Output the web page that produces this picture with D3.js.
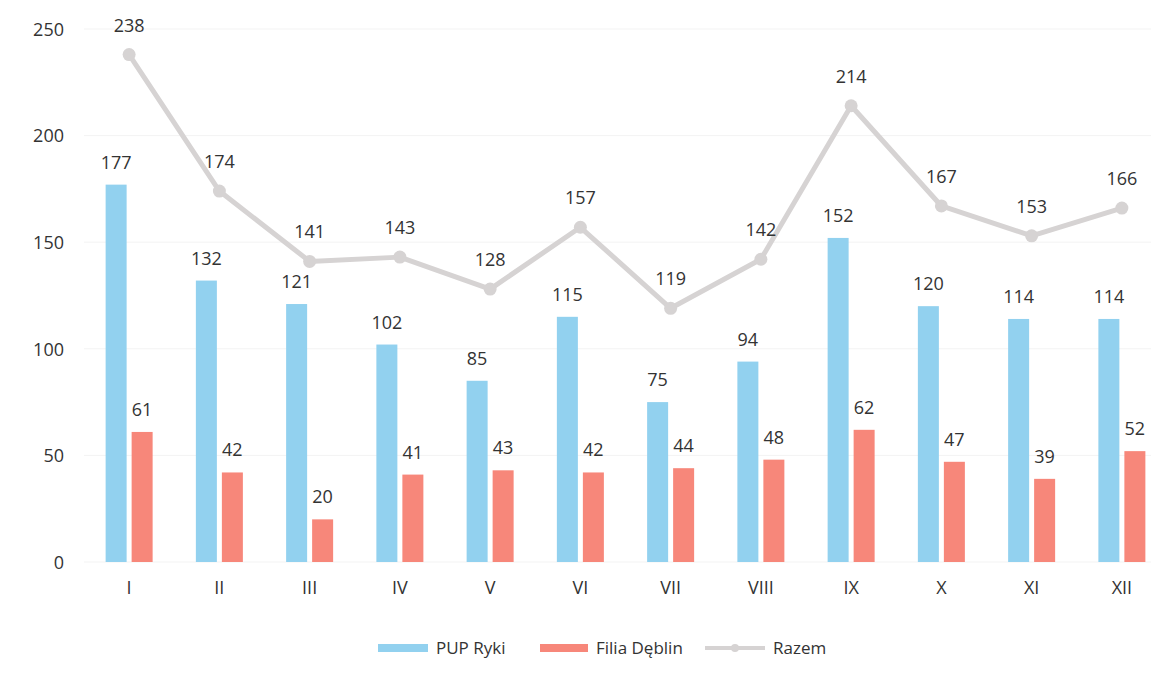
<!DOCTYPE html>
<html>
<head>
<meta charset="utf-8">
<script src="https://cdn.jsdelivr.net/npm/d3@7"></script>
<style>
  body { margin: 0; background: #fff; }
  text { font-family: "Open Sans", "Noto Sans", sans-serif; fill: #333; }
</style>
</head>
<body>
<svg id="chart" width="1151" height="673"></svg>
<script>
// months (roman numerals)
var months = ["I","II","III","IV","V","VI","VII","VIII","IX","X","XI","XII"];
var pupRyki = [177,132,121,102,85,115,75,94,152,120,114,114];
var filiaDeblin = [61,42,20,41,43,42,44,48,62,47,39,52];
var razem = [238,174,141,143,128,157,119,142,214,167,153,166];
var yTicks = [0,50,100,150,200,250];
var seriesNames = ["PUP Ryki","Filia Dęblin","Razem"];

var blue = "#92d1ef", red = "#f7877a", grey = "#d6d3d3";

var svg = d3.select("#chart");

var x = d3.scaleBand()
    .domain(months)
    .range([84, 1167])
    .padding(0);

var y = d3.scaleLinear()
    .domain([0, 250])
    .range([562, 29]);

var barW = 21, gap = 5;

// faint gridlines
svg.append("g")
  .selectAll("line")
  .data(yTicks)
  .enter().append("line")
    .attr("x1", 84).attr("x2", 1167)
    .attr("y1", function(d){ return y(d); })
    .attr("y2", function(d){ return y(d); })
    .style("stroke", "#f3f3f3")
    .style("stroke-width", 1);

// y axis labels
var yAxis = d3.axisLeft(y).tickValues(yTicks).tickSize(0).tickPadding(0);
var ya = svg.append("g").attr("transform", "translate(64,0)").call(yAxis);
ya.select(".domain").remove();
ya.selectAll("text").style("font-size", "18px").attr("dy", "0.35em").style("fill", "#333");

// x axis labels
var xAxis = d3.axisBottom(x).tickSize(0).tickPadding(0);
var xa = svg.append("g").attr("transform", "translate(0,581)").call(xAxis);
xa.select(".domain").remove();
xa.selectAll("text").style("font-size", "18px").attr("dy", "0.71em").style("fill", "#333");

function cx(d){ return x(d) + x.bandwidth()/2; }

// bars
svg.append("g").selectAll("rect")
  .data(months)
  .enter().append("rect")
    .attr("x", function(d){ return cx(d) - gap/2 - barW; })
    .attr("y", function(d, i){ return y(pupRyki[i]); })
    .attr("width", barW)
    .attr("height", function(d, i){ return y(0) - y(pupRyki[i]); })
    .style("fill", blue);

svg.append("g").selectAll("rect")
  .data(months)
  .enter().append("rect")
    .attr("x", function(d){ return cx(d) + gap/2; })
    .attr("y", function(d, i){ return y(filiaDeblin[i]); })
    .attr("width", barW)
    .attr("height", function(d, i){ return y(0) - y(filiaDeblin[i]); })
    .style("fill", red);

// bar labels
svg.append("g").selectAll("text")
  .data(months)
  .enter().append("text")
    .attr("x", function(d){ return cx(d) - gap/2 - barW/2; })
    .attr("y", function(d, i){ return y(pupRyki[i]) - 16; })
    .attr("text-anchor", "middle")
    .style("font-size", "18px")
    .text(function(d, i){ return pupRyki[i]; });

svg.append("g").selectAll("text")
  .data(months)
  .enter().append("text")
    .attr("x", function(d){ return cx(d) + gap/2 + barW/2; })
    .attr("y", function(d, i){ return y(filiaDeblin[i]) - 16; })
    .attr("text-anchor", "middle")
    .style("font-size", "18px")
    .text(function(d, i){ return filiaDeblin[i]; });

// line
var line = d3.line()
    .x(function(d, i){ return cx(months[i]); })
    .y(function(d){ return y(d); });

svg.append("path")
  .datum(razem)
  .attr("d", line)
  .style("fill", "none")
  .style("stroke", grey)
  .style("stroke-width", 5)
  .style("stroke-linejoin", "round");

svg.append("g").selectAll("circle")
  .data(razem)
  .enter().append("circle")
    .attr("cx", function(d, i){ return cx(months[i]); })
    .attr("cy", function(d){ return y(d); })
    .attr("r", 6.5)
    .style("fill", grey);

svg.append("g").selectAll("text")
  .data(razem)
  .enter().append("text")
    .attr("x", function(d, i){ return cx(months[i]); })
    .attr("y", function(d){ return y(d) - 23; })
    .attr("text-anchor", "middle")
    .style("font-size", "18px")
    .text(function(d){ return d; });

// legend
var leg = svg.append("g").attr("transform", "translate(0,648)");
var legX = [378, 540, 705];
var legW = [50, 48, 60];
seriesNames.forEach(function(name, i){
  if (i < 2) {
    leg.append("rect")
      .attr("x", legX[i]).attr("y", -4)
      .attr("width", legW[i]).attr("height", 8)
      .style("fill", i === 0 ? blue : red);
  } else {
    leg.append("line")
      .attr("x1", legX[i]).attr("x2", legX[i] + legW[i])
      .attr("y1", 0).attr("y2", 0)
      .style("stroke", grey).style("stroke-width", 4);
    leg.append("circle")
      .attr("cx", legX[i] + legW[i]/2).attr("cy", 0).attr("r", 4)
      .style("fill", grey);
  }
  leg.append("text")
    .attr("x", legX[i] + legW[i] + 8)
    .attr("y", 0)
    .attr("dy", "0.35em")
    .style("font-size", "17px")
    .text(name);
});
</script>
</body>
</html>
